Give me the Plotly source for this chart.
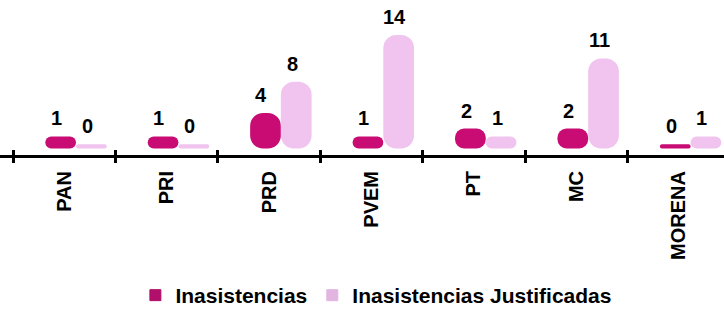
import plotly.graph_objects as go

categories = ["PAN", "PRI", "PRD", "PVEM", "PT", "MC", "MORENA"]
inasistencias = [1, 1, 4, 1, 2, 2, 0]
justificadas = [0, 0, 8, 14, 1, 11, 1]
series_names = ["Inasistencias", "Inasistencias Justificadas"]

# style constants
C_MAG = "#C80C74"
C_PINK = "#F0C4EE"
C_LEG = ["#B0106C", "#E2B4E0"]
FONT = "Liberation Sans, Arial, sans-serif"
BASE_PAD = 0.55          # visual floor thickness of the 3D bars (data units)
BAR_W = 0.3
OFFSETS = [-0.185, 0.115]

pos = list(range(len(categories)))
bounds = [p - 0.5 for p in pos] + [pos[-1] + 0.5]

fig = go.Figure()
for name, vals, col, off in zip(series_names, [inasistencias, justificadas],
                                [C_MAG, C_PINK], OFFSETS):
    fig.add_trace(go.Bar(
        x=pos, y=[v + BASE_PAD for v in vals], base=-BASE_PAD,
        width=BAR_W, offset=off, name=name, showlegend=False,
        marker=dict(color=col, cornerradius=13, line=dict(width=0)),
        hoverinfo="skip",
    ))
    for p, v in zip(pos, vals):
        fig.add_annotation(
            x=p + off + BAR_W / 2 - 0.04, y=v, text=str(v), showarrow=False,
            yanchor="bottom", yshift=5,
            font=dict(family=FONT, size=20, color="#000", weight="bold"),
        )

# legend entries (square markers); also anchor the tick-only overlay axes
for name, col, xa in zip(series_names, C_LEG, ["x2", "x3"]):
    fig.add_trace(go.Scatter(
        x=[None], y=[None], mode="markers", name=name, xaxis=xa,
        marker=dict(symbol="square", size=11, color=col,
                    line=dict(width=1, color=col)),
        hoverinfo="skip",
    ))

XR = [-0.627, 6.441]
tick_common = dict(range=XR, overlaying="x", anchor="y", side="bottom",
                   tickvals=bounds, showticklabels=False, tickwidth=3,
                   tickcolor="#000", showgrid=False, zeroline=False,
                   showline=False, automargin=False)
fig.update_layout(
    width=724, height=316,
    margin=dict(l=0, r=0, t=0, b=161, pad=0),
    paper_bgcolor="white", plot_bgcolor="white",
    barmode="overlay",
    showlegend=True,
    legend=dict(orientation="h", x=0.187, xanchor="left",
                yref="container", y=0, yanchor="bottom",
                font=dict(family=FONT, size=21, color="#000", weight="bold"),
                itemwidth=30, traceorder="normal"),
    xaxis=dict(range=XR, tickvals=pos, ticktext=categories, tickangle=-90,
               ticks="", showgrid=False, zeroline=False, automargin=False,
               showline=True, linecolor="#000", linewidth=3,
               tickfont=dict(family=FONT, size=20, color="#000", weight="bold"),
               ticklabelstandoff=5),
    xaxis2=dict(ticks="outside", ticklen=7, **tick_common),
    xaxis3=dict(ticks="inside", ticklen=5, **tick_common),
    yaxis=dict(range=[-1.385, 18.49], visible=False, fixedrange=True,
               automargin=False),
)
fig.write_html(
    "out.html",
    config={"displayModeBar": False},
    post_script="document.body.style.margin='0';document.body.style.overflow='hidden';",
)
